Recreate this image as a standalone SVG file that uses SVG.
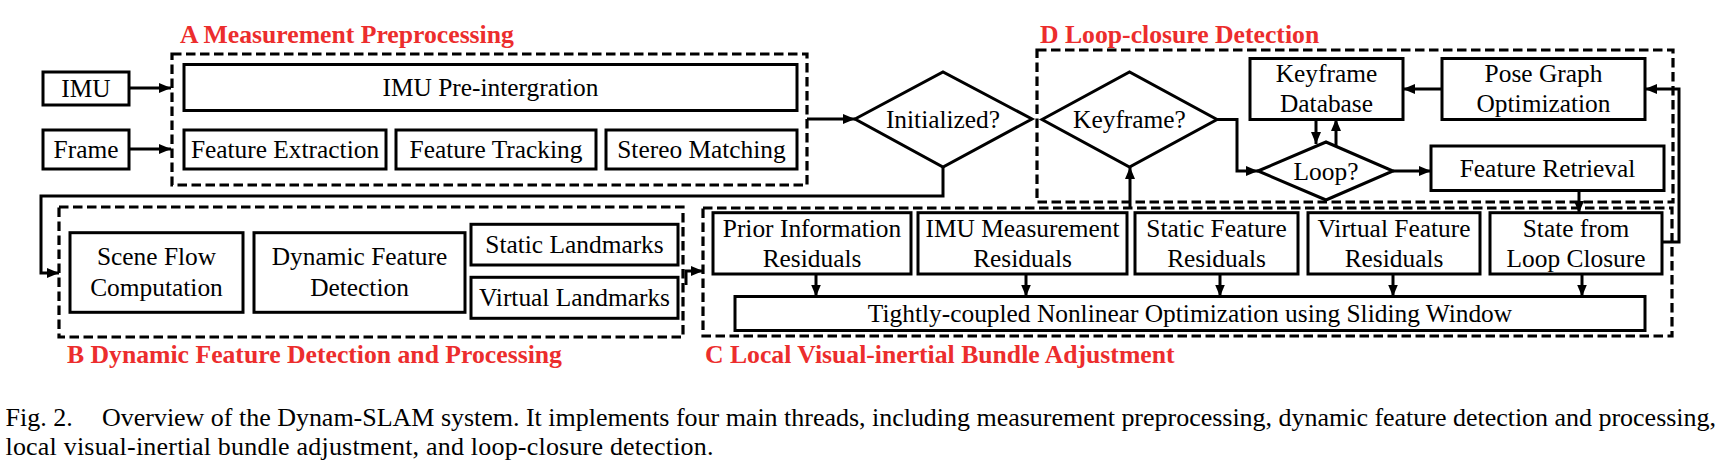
<svg xmlns="http://www.w3.org/2000/svg" width="1723" height="471" viewBox="0 0 1723 471">
<defs>
<style>
.box{fill:#fff;stroke:#000;stroke-width:3}
.dash{fill:none;stroke:#000;stroke-width:3.2;stroke-dasharray:9.5 4.5}
.t{font-family:"Liberation Serif","Times New Roman",serif;font-size:25.4px;fill:#000;text-anchor:middle}
.lbl{font-family:"Liberation Serif","Times New Roman",serif;font-size:25.7px;font-weight:bold;fill:#ec2d2d}
.cap{font-family:"Liberation Serif","Times New Roman",serif;font-size:26px;fill:#000}
.c{fill:none;stroke:#000;stroke-width:3;marker-end:url(#ah)}
</style>
<marker id="ah" viewBox="0 0 12 10" refX="12" refY="5" markerWidth="12" markerHeight="10" markerUnits="userSpaceOnUse" orient="auto">
<path d="M0,0 L12,5 L0,10 z" fill="#000"/>
</marker>
</defs>
<rect width="1723" height="471" fill="#fff"/>

<g id="groups">
<rect class="dash" x="172" y="54" width="635" height="131"/>
<rect class="dash" x="1037" y="50" width="636" height="152"/>
<rect class="dash" x="59" y="207" width="624" height="130"/>
<rect class="dash" x="703" y="208" width="969" height="128"/>
<text class="lbl" x="180" y="43">A Measurement Preprocessing</text>
<text class="lbl" x="1040" y="43">D Loop-closure Detection</text>
<text class="lbl" x="67" y="363">B Dynamic Feature Detection and Processing</text>
<text class="lbl" x="705" y="363">C Local Visual-inertial Bundle Adjustment</text>
</g>

<g id="connectors">
<path class="c" d="M129,88 H171"/>
<path class="c" d="M129,149 H171"/>
<path class="c" d="M807,119 H855"/>
<path class="c" d="M943,167 V196 H41 V273 H59"/>
<path class="c" d="M686,285 V271 H703"/>
<path class="c" d="M1130,208 V167"/>
<path class="c" d="M1217,119.5 H1237 V171 H1258"/>
<path class="c" d="M1316,119 V144"/>
<path class="c" d="M1336,147 V119"/>
<path class="c" d="M1442,89 H1403"/>
<path class="c" d="M1393,171 H1431"/>
<path class="c" d="M1579,190 V213"/>
<path class="c" d="M1662,242 H1679 V89 H1645"/>
<path class="c" d="M816,274 V296.5"/>
<path class="c" d="M1026,274 V296.5"/>
<path class="c" d="M1220,274 V296.5"/>
<path class="c" d="M1393,274 V296.5"/>
<path class="c" d="M1582,274 V296.5"/>
</g>

<g id="imu"><rect class="box" x="43" y="72" width="86" height="33"/><text class="t" x="86" y="96.5">IMU</text></g>
<g id="frame"><rect class="box" x="43" y="130" width="86" height="39"/><text class="t" x="86" y="158">Frame</text></g>
<g id="imu-preint"><rect class="box" x="184" y="64.5" width="613" height="46"/><text class="t" x="490.5" y="96">IMU Pre-intergration</text></g>
<g id="feat-extract"><rect class="box" x="184" y="130" width="202" height="39"/><text class="t" x="285" y="158">Feature Extraction</text></g>
<g id="feat-track"><rect class="box" x="396" y="130" width="200" height="39"/><text class="t" x="496" y="158">Feature Tracking</text></g>
<g id="stereo"><rect class="box" x="606" y="130" width="191" height="39"/><text class="t" x="701.5" y="158">Stereo Matching</text></g>
<g id="initialized"><polygon class="box" points="855,119 943,72 1032,119 943,167"/><text class="t" x="943" y="127.5">Initialized?</text></g>
<g id="keyframe-q"><polygon class="box" points="1042,119.5 1129.5,72 1217,119.5 1129.5,167"/><text class="t" x="1129.5" y="128">Keyframe?</text></g>
<g id="kf-db"><rect class="box" x="1250" y="58.5" width="153" height="61"/><text class="t" x="1326.5" y="82">Keyframe</text><text class="t" x="1326.5" y="112">Database</text></g>
<g id="pose-graph"><rect class="box" x="1442" y="58.5" width="203" height="61"/><text class="t" x="1543.5" y="82">Pose Graph</text><text class="t" x="1543.5" y="112">Optimization</text></g>
<g id="loop-q"><polygon class="box" points="1258,171 1326,142 1393,171 1326,200"/><text class="t" x="1326" y="179.5">Loop?</text></g>
<g id="feat-retrieval"><rect class="box" x="1431" y="146" width="233" height="44.5"/><text class="t" x="1547.5" y="176.5">Feature Retrieval</text></g>
<g id="scene-flow"><rect class="box" x="70" y="232.7" width="173" height="79.6"/><text class="t" x="156.5" y="265">Scene Flow</text><text class="t" x="156.5" y="296">Computation</text></g>
<g id="dyn-feat"><rect class="box" x="254" y="232.7" width="211" height="79.6"/><text class="t" x="359.5" y="265">Dynamic Feature</text><text class="t" x="359.5" y="296">Detection</text></g>
<g id="static-lm"><rect class="box" x="471" y="224.3" width="207" height="40.7"/><text class="t" x="574.5" y="253">Static Landmarks</text></g>
<g id="virtual-lm"><rect class="box" x="471" y="277.3" width="207" height="41"/><text class="t" x="574.5" y="306">Virtual Landmarks</text></g>
<g id="prior-res"><rect class="box" x="713" y="212.7" width="198" height="61.3"/><text class="t" x="812" y="236.5">Prior Information</text><text class="t" x="812" y="266.5">Residuals</text></g>
<g id="imu-res"><rect class="box" x="918" y="212.7" width="209" height="61.3"/><text class="t" x="1022.5" y="236.5">IMU Measurement</text><text class="t" x="1022.5" y="266.5">Residuals</text></g>
<g id="static-res"><rect class="box" x="1135" y="212.7" width="163" height="61.3"/><text class="t" x="1216.5" y="236.5">Static Feature</text><text class="t" x="1216.5" y="266.5">Residuals</text></g>
<g id="virtual-res"><rect class="box" x="1308" y="212.7" width="172" height="61.3"/><text class="t" x="1394" y="236.5">Virtual Feature</text><text class="t" x="1394" y="266.5">Residuals</text></g>
<g id="loop-state"><rect class="box" x="1490" y="212.7" width="172" height="61.3"/><text class="t" x="1576" y="236.5">State from</text><text class="t" x="1576" y="266.5">Loop Closure</text></g>
<g id="optimization"><rect class="box" x="735" y="296.5" width="910" height="34"/><text class="t" x="1190" y="322">Tightly-coupled Nonlinear Optimization using Sliding Window</text></g>

<g id="caption">
<text class="cap" x="5.5" y="426">Fig. 2.</text>
<text class="cap" x="102" y="426" textLength="1614" lengthAdjust="spacing">Overview of the Dynam-SLAM system. It implements four main threads, including measurement preprocessing, dynamic feature detection and processing,</text>
<text class="cap" x="5.5" y="455" textLength="708" lengthAdjust="spacing">local visual-inertial bundle adjustment, and loop-closure detection.</text>
</g>
</svg>
